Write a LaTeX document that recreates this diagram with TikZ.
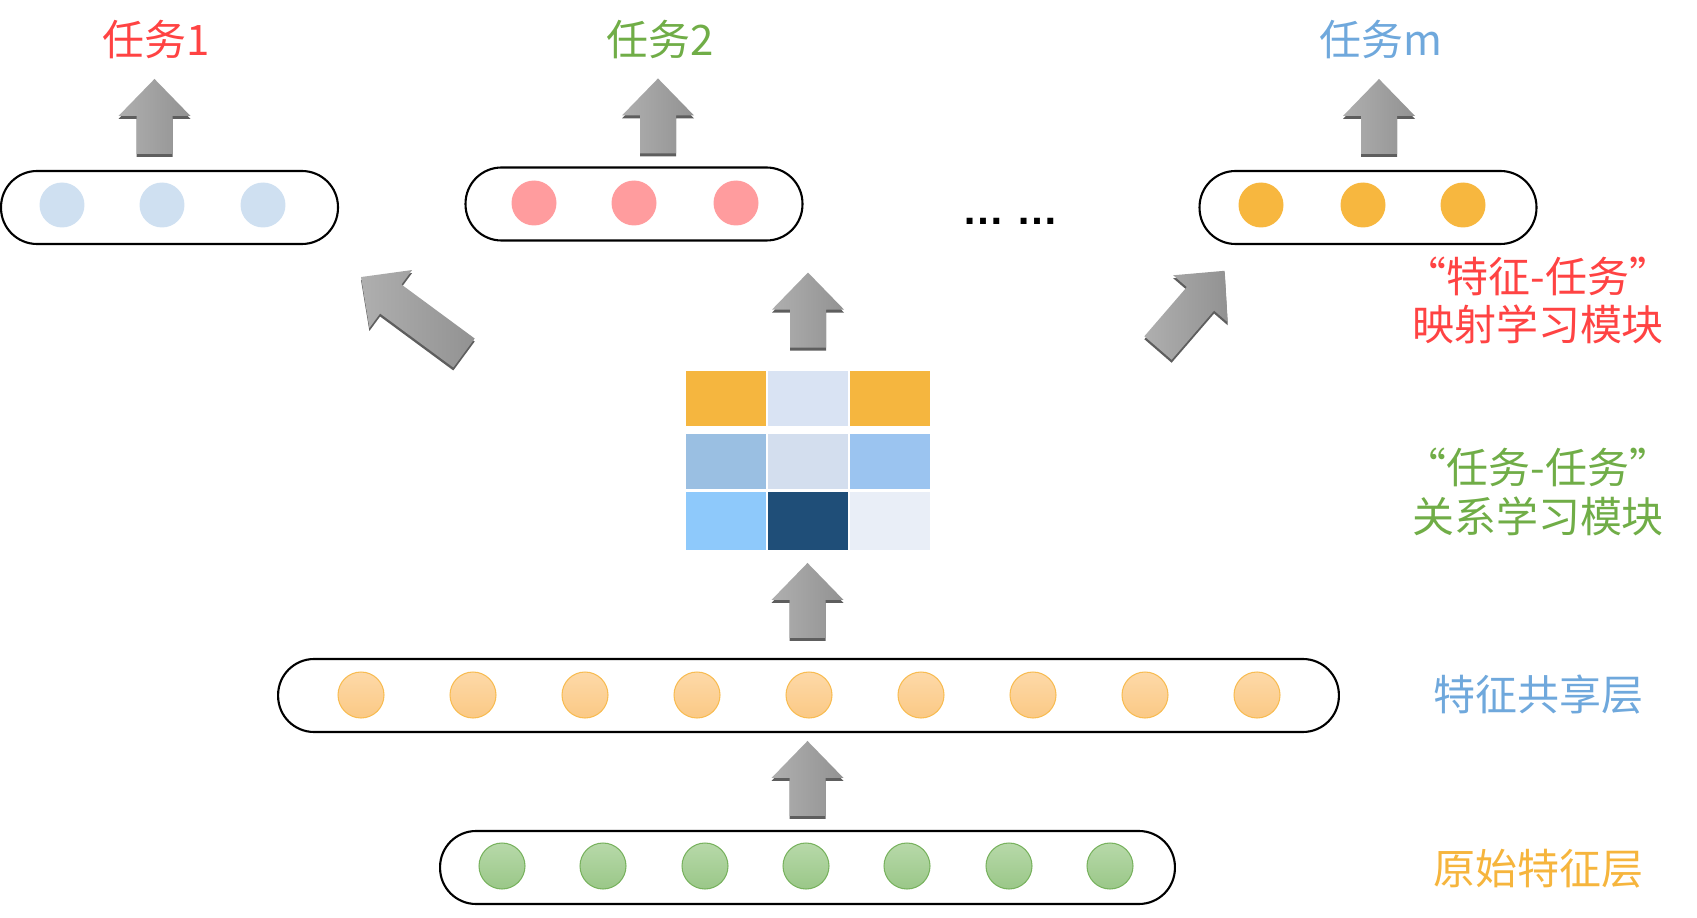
\documentclass[tikz,border=0pt]{standalone}
\usepackage{fontspec}
\setmainfont{Noto Sans CJK SC}
\newfontfamily\dotsfont{Liberation Sans}
\usepackage{tikz}
\usetikzlibrary{calc}
\definecolor{taskred}{HTML}{FF4343}
\definecolor{taskgreen}{HTML}{70AD47}
\definecolor{taskblue}{HTML}{6FA8DC}
\definecolor{taskorange}{HTML}{F6B53D}
\definecolor{dotblue}{HTML}{CFE0F1}
\definecolor{dotpink}{HTML}{FF9C9E}
\definecolor{dotorange}{HTML}{F7B73F}
\definecolor{sharedtop}{HTML}{FDD9A8}
\definecolor{sharedbot}{HTML}{FBC985}
\definecolor{sharededge}{HTML}{F8BC52}
\definecolor{rawtop}{HTML}{B7D9A9}
\definecolor{rawbot}{HTML}{9AC788}
\definecolor{rawedge}{HTML}{78B25E}
\definecolor{arrowlight}{HTML}{AFAFAF}
\definecolor{arrowdark}{HTML}{929292}
\definecolor{arrowshadow}{HTML}{5E5E5E}
\definecolor{cellA}{HTML}{F5B63F}
\definecolor{cellB}{HTML}{D9E3F3}
\definecolor{cellC}{HTML}{9ABFE2}
\definecolor{cellD}{HTML}{D3DEEE}
\definecolor{cellE}{HTML}{9BC4F0}
\definecolor{cellF}{HTML}{8EC9FB}
\definecolor{cellG}{HTML}{1F4E78}
\definecolor{cellH}{HTML}{E9EEF7}

\tikzset{
  pics/fatarrow/.style 2 args={code={
    \fill[arrowshadow,shift={(0,3)},rotate=#1]
      (-18,0) -- (-18,-#2) -- (-36,-#2) -- (0,-#2-37) -- (36,-#2) -- (18,-#2) -- (18,0) -- cycle;
    \shade[left color=arrowlight,right color=arrowdark,rotate=#1]
      (-18,0) -- (-18,-#2) -- (-36,-#2) -- (0,-#2-37) -- (36,-#2) -- (18,-#2) -- (18,0) -- cycle;
  }}
}

\begin{document}
\begin{tikzpicture}[x=0.02cm,y=-0.02cm,
  layerbox/.style={draw=black,line width=1.2pt,rounded corners=0.72cm,minimum height=1.46cm,inner sep=0pt},
  dot/.style={circle,minimum size=0.9cm,inner sep=0pt},
  shareddot/.style={circle,minimum size=0.92cm,inner sep=0pt,draw=sharededge,line width=0.6pt,top color=sharedtop,bottom color=sharedbot},
  rawdot/.style={circle,minimum size=0.92cm,inner sep=0pt,draw=rawedge,line width=0.6pt,top color=rawtop,bottom color=rawbot},
  cell/.style={rectangle,minimum width=1.62cm,inner sep=0pt,draw=white,line width=0.5pt},
  tasklabel/.style={font=\fontsize{23.9pt}{27.8pt}\selectfont,inner sep=0pt},
  sidelabel/.style={font=\fontsize{23.9pt}{27.8pt}\selectfont,align=center,inner sep=0pt}]
  \useasboundingbox (0,0) rectangle (1697,918);

  % task outputs
  \node[layerbox,minimum width=6.74cm] (t1box) at (169.5,207.5) {};
  \node[layerbox,minimum width=6.74cm] (t2box) at (634,204) {};
  \node[layerbox,minimum width=6.74cm] (tmbox) at (1368,207.5) {};
  \foreach \i/\xx in {1/62,2/162,3/263}
    \node[dot,fill=dotblue] (a\i) at (\xx,205) {};
  \foreach \i/\xx in {1/534,2/634,3/736}
    \node[dot,fill=dotpink] (b\i) at (\xx,203) {};
  \foreach \i/\xx in {1/1261,2/1363,3/1463}
    \node[dot,fill=dotorange] (c\i) at (\xx,205) {};
  \node[font=\dotsfont\bfseries\fontsize{23.9pt}{27.8pt}\selectfont,inner sep=0pt] (more) at (1010.5,221) {… …};

  \node[tasklabel,text=taskred] (task1) at (156,40) {任务1};
  \node[tasklabel,text=taskgreen] (task2) at (660,40) {任务2};
  \node[tasklabel,text=taskblue] (taskm) at (1381,40) {任务m};

  \pic at ($(t1box.north)+(-15,-16)$) {fatarrow={0}{38}};
  \pic at ($(t2box.north)+(24,-13)$) {fatarrow={0}{38}};
  \pic at ($(tmbox.north)+(11,-16)$) {fatarrow={0}{38}};

  % task-task relation matrix
  \foreach \name/\xx/\yy/\hh/\col in {g11/726/398/1.12/cellA, g12/808/398/1.12/cellB, g13/890/398/1.12/cellA,
      g21/726/461/1.12/cellC, g22/808/461/1.12/cellD, g23/890/461/1.12/cellE,
      g31/726/520.5/1.18/cellF, g32/808/520.5/1.18/cellG, g33/890/520.5/1.18/cellH}
    \node[cell,fill=\col,minimum height=\hh cm] (\name) at (\xx,\yy) {};

  \coordinate (lefttail) at (464,353);
  \coordinate (righttail) at (1158,348);
  \pic at (lefttail) {fatarrow={53.6}{91}};
  \pic at ($(g12.north)+(0,-22)$) {fatarrow={0}{38}};
  \pic at (righttail) {fatarrow={-40.8}{65}};

  % shared and raw layers
  \node[layerbox,minimum width=21.22cm] (shared) at (808.5,695.5) {};
  \foreach \i/\xx in {1/361,2/473,3/585,4/697,5/809,6/921,7/1033,8/1145,9/1257}
    \node[shareddot] (s\i) at (\xx,695) {};
  \node[layerbox,minimum width=14.7cm] (raw) at (807.5,867.5) {};
  \foreach \i/\xx in {1/502,2/603,3/705,4/806,5/907,6/1009,7/1110}
    \node[rawdot] (r\i) at (\xx,866) {};

  \pic at ($(shared.north)+(-1,-20)$) {fatarrow={0}{38}};
  \pic at ($(raw.north)+(0,-14)$) {fatarrow={0}{38}};

  % side labels
  \node[sidelabel,text=taskred] (mapmod) at (1538,300.5) {“特征-任务”\\映射学习模块};
  \node[sidelabel,text=taskgreen] (relmod) at (1538,492) {“任务-任务”\\关系学习模块};
  \node[sidelabel,text=taskblue] (sharedlbl) at (1538,695) {特征共享层};
  \node[sidelabel,text=taskorange] (rawlbl) at (1538,869) {原始特征层};
\end{tikzpicture}
\end{document}
